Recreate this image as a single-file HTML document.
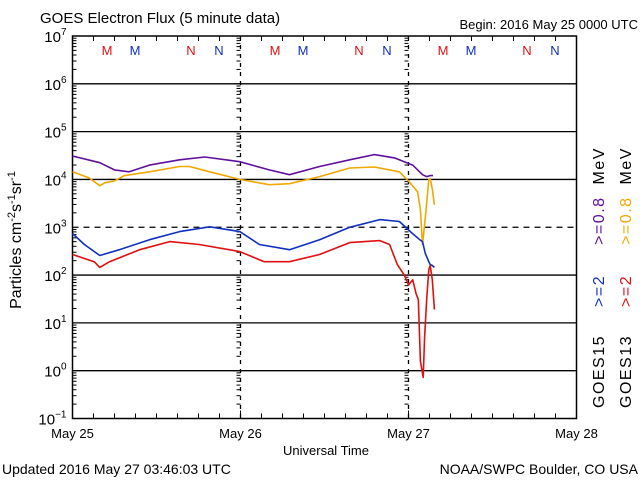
<!DOCTYPE html>
<html><head><meta charset="utf-8"><style>
html,body{margin:0;padding:0;background:#fff;}
svg{display:block;font-family:"Liberation Sans",sans-serif;}
</style></head><body>
<svg id="chart" width="640" height="480" viewBox="0 0 640 480"></svg>
<script>
// ---- data (hours since May 25 00:00 UTC, log10 flux) ----
const dayLabels = ["May 25","May 26","May 27","May 28"];
const yTickExps = [7,6,5,4,3,2,1,0,-1];
const purpleHours = [0,3.9,6,8.1,11,15.3,18.9,23.9,28.1,31,35.3,39.6,43.1,46,48.6,50,50.6,51.1,51.5];
const purpleLog   = [4.49,4.35,4.2,4.16,4.3,4.41,4.47,4.37,4.2,4.1,4.27,4.41,4.52,4.45,4.3,4.1,4.06,4.08,4.08];
const orangeHours = [0,2.4,3.9,4.6,6,7.4,11,15.3,16.7,19.6,23.9,28.1,31,35.3,39.6,43.1,46.7,48.1,49.3,49.7,50,50.4,50.9,51.1,51.4,51.7];
const orangeLog   = [4.16,4.03,3.87,3.93,3.97,4.08,4.16,4.27,4.27,4.16,4.0,3.89,3.91,4.06,4.24,4.26,4.16,3.95,3.74,3.37,2.64,3.2,4.0,4.02,3.8,3.47];
const blueHours = [0,1.7,3.9,6.7,11,15.3,19.6,23.9,26.7,31,35.3,39.6,43.9,46.7,48.4,49.6,50,50.4,50.9,51.1,51.4,51.7];
const blueLog   = [2.87,2.64,2.41,2.53,2.74,2.91,3.01,2.91,2.64,2.53,2.74,3.0,3.16,3.12,2.89,2.74,2.7,2.45,2.28,2.22,2.2,2.16];
const redHours = [0,3.1,3.9,5.3,9.6,13.9,18.1,23.9,27.4,31,35.3,39.6,43.9,45.3,46.4,47.4,48,48.6,49.1,49.4,49.7,50.1,50.3,50.6,50.9,51.1,51.4,51.7];
const redLog   = [2.43,2.28,2.16,2.28,2.53,2.7,2.64,2.49,2.28,2.28,2.43,2.68,2.72,2.64,2.22,2.0,1.79,1.9,1.6,1.49,0.2,-0.14,0.7,1.5,2.11,2.2,1.9,1.28];

const svg = document.getElementById('chart');
const NS = 'http://www.w3.org/2000/svg';
const L=72.5, R=576.5, T=36, B=418.5;
function X(h){return L+(R-L)*h/72;}
function Y(e){return T+(B-T)*(7-e)/8;}
function mk(tag, attrs, parent){const el=document.createElementNS(NS,tag);for(const k in attrs)el.setAttribute(k,attrs[k]);(parent||svg).appendChild(el);return el;}

for(const e of yTickExps){
  if(e===7||e===-1) continue;
  const ln = mk('line',{x1:L,x2:R,y1:Y(e),y2:Y(e),stroke:'#000','stroke-width':1.3,'stroke-dasharray':e===3?'6,5':''});
  
  
}
for(let e=-1;e<7;e++){
  for(let m=2;m<=9;m++){
    const y=Y(e+Math.log10(m));
    mk('line',{x1:L,x2:L+4,y1:y,y2:y,stroke:'#000','stroke-width':1});
    for(const d of [24,48]){mk('line',{x1:X(d)-4,x2:X(d),y1:y,y2:y,stroke:'#000','stroke-width':1});}
  }
  for(const d of [24,48]){mk('line',{x1:X(d)-7,x2:X(d),y1:Y(e),y2:Y(e),stroke:'#000','stroke-width':1});}
}
for(const d of [24,48]){
  const dl = mk('line',{x1:X(d),x2:X(d),y1:T,y2:B,stroke:'#000','stroke-width':1.3,'stroke-dasharray':'4,5'});
  
  
}
for(let h=3;h<72;h+=3){mk('line',{x1:X(h),x2:X(h),y1:B,y2:B-(h%24===0?8:5),stroke:'#000','stroke-width':1});
  mk('line',{x1:X(h),x2:X(h),y1:T,y2:T+5,stroke:'#000','stroke-width':1});}
const fr = mk('rect',{x:L,y:T,width:R-L,height:B-T,fill:'none',stroke:'#000','stroke-width':1.5});



for(const e of yTickExps){
  const t = mk('text',{x:L-6,y:Y(e)+6,'text-anchor':'end','font-size':15});
  
  
  t.textContent='10';
  const s = mk('tspan',{dy:-7,'font-size':10},t); s.textContent=String(e).replace('-','−');
}
dayLabels.forEach((lab,i)=>{
  const t = mk('text',{x:X(i*24),y:438,'text-anchor':'middle','font-size':13});
  
  
  t.textContent=lab;
});

const mnLetters=['M','M','N','N'], mnColors=['#e01010','#1030c0','#e01010','#1030c0'], mnOffsets=[34.5,62.5,118.5,146.5];
for(let d=0;d<3;d++) for(let i=0;i<4;i++){
  const t=mk('text',{x:L+d*168+mnOffsets[i],y:55,'text-anchor':'middle','font-size':13,fill:mnColors[i]});
  
  
  t.textContent=mnLetters[i];
}

function series(hours, logs, color, name){
  const pts = hours.map((h,i)=>X(h).toFixed(1)+','+Y(logs[i]).toFixed(1)).join(' ');
  const p = mk('polyline',{points:pts,fill:'none',stroke:color,'stroke-width':1.6,'stroke-linejoin':'round'});
  
  
}
series(purpleHours,purpleLog,'#6010a0','goes15-ge0.8mev-line');
series(orangeHours,orangeLog,'#f0a800','goes13-ge0.8mev-line');
series(blueHours,blueLog,'#1030c0','goes15-ge2mev-line');
series(redHours,redLog,'#e01010','goes13-ge2mev-line');
</script>
<div style="position:absolute;left:0;top:0;width:640px;height:480px;pointer-events:none;">
<svg width="640" height="480" style="font-family:'Liberation Sans',sans-serif;">
  <text x="40" y="23" font-size="15">GOES Electron Flux (5 minute data)</text>
  <text x="638" y="29" font-size="13" text-anchor="end">Begin: 2016 May 25 0000 UTC</text>
  <text x="326" y="455" font-size="13" text-anchor="middle">Universal Time</text>
  <text x="2" y="474" font-size="14">Updated 2016 May 27 03:46:03 UTC</text>
  <text x="638" y="474" font-size="14" text-anchor="end">NOAA/SWPC Boulder, CO USA</text>
  <text transform="translate(21,240) rotate(-90)" font-size="16" text-anchor="middle">Particles cm<tspan dy="-6" font-size="11">-2</tspan><tspan dy="6">s</tspan><tspan dy="-6" font-size="11">-1</tspan><tspan dy="6">sr</tspan><tspan dy="-6" font-size="11">-1</tspan></text>
  <text transform="translate(604,408) rotate(-90)" font-size="16" letter-spacing="1.5">GOES15<tspan dx="28" fill="#1030c0">&gt;=2</tspan><tspan dx="30" fill="#6010a0">&gt;=0.8</tspan><tspan dx="12">MeV</tspan></text>
  <text transform="translate(631,408) rotate(-90)" font-size="16" letter-spacing="1.5">GOES13<tspan dx="28" fill="#e01010">&gt;=2</tspan><tspan dx="30" fill="#f0a800">&gt;=0.8</tspan><tspan dx="12">MeV</tspan></text>
</svg></div>
</body></html>
